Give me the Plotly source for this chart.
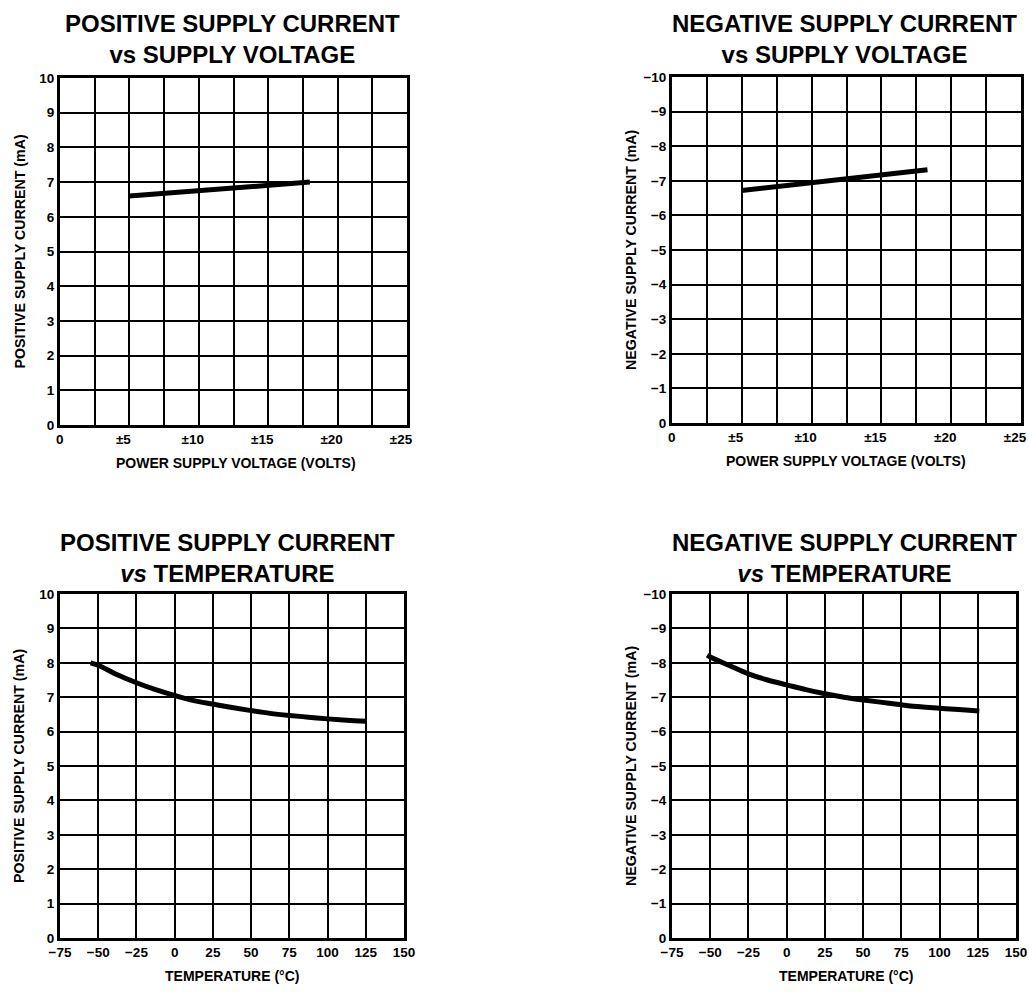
import plotly.graph_objects as go

# ---- data ----
volt_pos_x = [5, 18]
volt_pos_y = [6.6, 7.0]
volt_neg_x = [5, 18.3]
volt_neg_y = [-6.72, -7.32]

temp_pos_x = [-55, -50, -37.5, -25, -12.5, 0, 12.5, 25, 37.5, 50, 62.5, 75, 87.5, 100, 112.5, 125]
temp_pos_y = [8.0, 7.93, 7.65, 7.42, 7.22, 7.05, 6.9, 6.8, 6.7, 6.61, 6.53, 6.47, 6.42, 6.37, 6.33, 6.3]
temp_neg_x = [-52, -50, -37.5, -25, -12.5, 0, 12.5, 25, 37.5, 50, 62.5, 75, 87.5, 100, 112.5, 126]
temp_neg_y = [-8.22, -8.17, -7.92, -7.68, -7.5, -7.36, -7.22, -7.1, -7.0, -6.92, -6.85, -6.78, -6.72, -6.68, -6.64, -6.6]

volt_ticks = [0, 2.5, 5, 7.5, 10, 12.5, 15, 17.5, 20, 22.5, 25]
volt_labels = ["\u00a0\u00a0\u00a00", "", "±5", "", "±10", "", "±15", "", "±20", "", "±25"]
temp_ticks = [-75, -50, -25, 0, 25, 50, 75, 100, 125, 150]
temp_labels = ["−75", "−50", "−25", "0", "25", "50", "75", "100", "125", "150"]
pos_ticks = [0, 1, 2, 3, 4, 5, 6, 7, 8, 9, 10]
pos_labels = ["0", "1", "2", "3", "4", "5", "6", "7", "8", "9", "10"]
neg_ticks = [0, -1, -2, -3, -4, -5, -6, -7, -8, -9, -10]
neg_labels = ["0", "−1", "−2", "−3", "−4", "−5", "−6", "−7", "−8", "−9", "−10"]

titles = [
    "POSITIVE SUPPLY CURRENT<br>vs SUPPLY VOLTAGE",
    "NEGATIVE SUPPLY CURRENT<br>vs SUPPLY VOLTAGE",
    "POSITIVE SUPPLY CURRENT<br><i>vs</i> TEMPERATURE",
    "NEGATIVE SUPPLY CURRENT<br><i>vs</i> TEMPERATURE",
]
ytitles = ["POSITIVE SUPPLY CURRENT (mA)", "NEGATIVE SUPPLY CURRENT (mA)",
           "POSITIVE SUPPLY CURRENT (mA)", "NEGATIVE SUPPLY CURRENT (mA)"]
xtitles = ["POWER SUPPLY VOLTAGE (VOLTS)", "POWER SUPPLY VOLTAGE (VOLTS)",
           "TEMPERATURE (°C)", "TEMPERATURE (°C)"]

W, H = 1029, 992
FONT = "Liberation Sans"

# pixel boxes (left, right, top, bottom)
boxes = [
    (60, 407, 78, 425),
    (672, 1021, 77, 423),
    (60, 404, 594, 938),
    (672, 1016, 594, 938),
]
title_cx = [232, 844, 227, 844]
title_top = [8, 8, 527, 527]
xtitle_cx = [236, 846, 232, 846]


def px(x):
    return x / W


def py(y):
    return 1 - y / H


fig = go.Figure()
series = [
    (volt_pos_x, volt_pos_y),
    (volt_neg_x, volt_neg_y),
    (temp_pos_x, temp_pos_y),
    (temp_neg_x, temp_neg_y),
]
for i, (xs, ys) in enumerate(series):
    ax = "" if i == 0 else str(i + 1)
    fig.add_trace(go.Scatter(x=xs, y=ys, mode="lines", line=dict(color="black", width=5, shape="spline"),
                             xaxis="x" + ax, yaxis="y" + ax, showlegend=False, hoverinfo="skip"))

layout = dict(width=W, height=H, margin=dict(l=0, r=0, t=0, b=0, autoexpand=False),
              paper_bgcolor="white", plot_bgcolor="white", showlegend=False,
              font=dict(family=FONT, color="black"))
annotations = []
for i, (l, r, t, b) in enumerate(boxes):
    ax = "" if i == 0 else str(i + 1)
    is_volt = i < 2
    is_neg = i % 2 == 1
    common = dict(showgrid=True, gridcolor="black", gridwidth=2,
                  zeroline=False, showline=True, linecolor="black", linewidth=3, mirror=True,
                  ticks="", ticklen=0, automargin=False, tickmode="array",
                  ticklabeloverflow="allow",
                  tickfont=dict(family=FONT, size=13.5, weight="bold", color="black"),
                  fixedrange=True)
    layout["xaxis" + ax] = dict(domain=[px(l), px(r)], anchor="y" + ax,
                                range=[0, 25] if is_volt else [-75, 150],
                                tickvals=volt_ticks if is_volt else temp_ticks,
                                ticktext=volt_labels if is_volt else temp_labels,
                                ticklabelshift=-6 if is_volt else 0,
                                **common)
    layout["yaxis" + ax] = dict(domain=[py(b), py(t)], anchor="x" + ax,
                                range=[0, -10] if is_neg else [0, 10],
                                tickvals=neg_ticks if is_neg else pos_ticks,
                                ticktext=neg_labels if is_neg else pos_labels,
                                **common)
    annotations.append(dict(text="<b>" + titles[i] + "</b>", x=px(title_cx[i]), y=py(title_top[i]),
                            xref="paper", yref="paper", xanchor="center", yanchor="top",
                            showarrow=False, align="center",
                            font=dict(family=FONT, size=24, color="black")))
    annotations.append(dict(text="<b>" + xtitles[i] + "</b>", x=px(xtitle_cx[i]), y=py(b + 38),
                            xref="paper", yref="paper", xanchor="center", yanchor="middle",
                            showarrow=False, font=dict(family=FONT, size=14, color="black")))
    annotations.append(dict(text="<b>" + ytitles[i] + "</b>", x=px(l - 41), y=py((t + b) / 2),
                            xref="paper", yref="paper", xanchor="center", yanchor="middle",
                            textangle=-90, showarrow=False,
                            font=dict(family=FONT, size=14.2, color="black")))
layout["annotations"] = annotations
fig.update_layout(**layout)
fig.write_html("out.html", config={"displayModeBar": False, "staticPlot": True},
               post_script="document.body.style.margin='0';document.body.style.overflow='hidden';")
